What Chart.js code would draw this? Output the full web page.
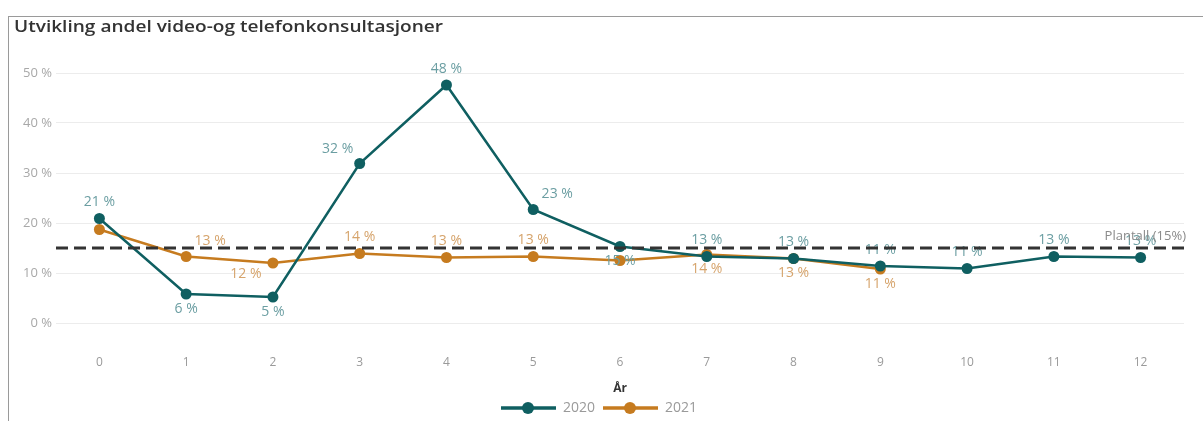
<!DOCTYPE html>
<html>
<head>
<meta charset="utf-8">
<script src="https://cdn.jsdelivr.net/npm/chart.js@4/dist/chart.umd.min.js"></script>
<style>
  html, body { margin: 0; padding: 0; background: #fff; width: 1203px; height: 421px; overflow: hidden; }
  #frame { position: absolute; left: 8px; top: 16px; width: 1195px; height: 405px;
           border-left: 1px solid #9a9a9a; border-top: 1px solid #9a9a9a; box-sizing: border-box; }
  #wrap { position: absolute; left: 0; top: 0; width: 1194px; height: 404px; }
</style>
</head>
<body>
<div id="frame"><div id="wrap"><canvas id="c"></canvas></div></div>
<script>
// ---- data ----
const years = ['0','1','2','3','4','5','6','7','8','9','10','11','12'];
const series2020 = [20.9, 5.8, 5.2, 31.9, 47.6, 22.7, 15.3, 13.3, 12.9, 11.4, 10.9, 13.3, 13.1];
const series2021 = [18.7, 13.3, 12.0, 13.9, 13.1, 13.3, 12.5, 13.7, 12.9, 10.8];
const labels2020 = ['21 %','6 %','5 %','32 %','48 %','23 %','15 %','13 %','13 %','11 %','11 %','13 %','13 %'];
const labels2021 = [null,'13 %','12 %','14 %','13 %','13 %',null,'14 %','13 %','11 %'];
const yTicks = [0, 10, 20, 30, 40, 50];
const targetValue = 15;
const targetLabel = 'Plantall (15%)';
const titleText = 'Utvikling andel video-og telefonkonsultasjoner';
const xTitle = 'År';

// label placement (style only)
const place2020 = ['above','below','below','aboveLeft','above','aboveRight','below','above','above','above','above','above','above'];
const place2021 = [null,'aboveRight','belowLeft','above','above','above',null,'below','below','below'];

const TEAL = '#0f5f61';
const ORANGE = '#c67b1f';
const TEAL_LBL = '#6b9ea2';
const ORANGE_LBL = '#d6a46c';

function legendIcon(color) {
  const c = document.createElement('canvas');
  c.width = 55; c.height = 14;
  const g = c.getContext('2d');
  g.strokeStyle = color; g.lineWidth = 3.5;
  g.beginPath(); g.moveTo(0, 7); g.lineTo(55, 7); g.stroke();
  g.fillStyle = color;
  g.beginPath(); g.arc(27, 7, 6, 0, Math.PI * 2); g.fill();
  return c;
}

const offsets = {
  above: [0, -16], below: [0, 15], aboveLeft: [-22, -14], aboveRight: [24, -15], belowLeft: [-27, 11]
};

const overlayPlugin = {
  id: 'overlay',
  afterDatasetsDraw(chart) {
    const ctx = chart.ctx;
    const sets = [[0, labels2020, place2020, TEAL_LBL], [1, labels2021, place2021, ORANGE_LBL]];
    ctx.save();
    ctx.font = '14px "Open Sans", sans-serif';
    ctx.textAlign = 'center';
    ctx.textBaseline = 'middle';
    sets.forEach(([di, lbls, plc, col]) => {
      const meta = chart.getDatasetMeta(di);
      meta.data.forEach((pt, i) => {
        if (!lbls[i] || !plc[i]) return;
        const o = offsets[plc[i]];
        ctx.fillStyle = col;
        ctx.fillText(lbls[i], pt.x + o[0], pt.y + o[1]);
      });
    });
    // target line
    const ys = chart.scales.y;
    const ca = chart.chartArea;
    const yp = ys.getPixelForValue(targetValue);
    ctx.strokeStyle = '#333';
    ctx.lineWidth = 3;
    ctx.setLineDash([12, 6]);
    ctx.beginPath(); ctx.moveTo(ca.left, yp); ctx.lineTo(ca.right + 4, yp); ctx.stroke();
    ctx.setLineDash([]);
    ctx.fillStyle = '#8a8a8a';
    ctx.font = '13px "Open Sans", sans-serif';
    ctx.textAlign = 'right';
    ctx.fillText(targetLabel, ca.right + 2, yp - 12);
    ctx.restore();
  },
  afterDraw(chart) {
    const ctx = chart.ctx;
    ctx.save();
    ctx.font = '600 16px "Open Sans", sans-serif';
    ctx.fillStyle = '#333';
    ctx.textBaseline = 'middle';
    ctx.textAlign = 'left';
    const w = ctx.measureText(titleText).width;
    ctx.translate(5, 10);
    ctx.scale(429 / w, 1);
    ctx.fillText(titleText, 0, 0);
    ctx.restore();
  }
};

new Chart(document.getElementById('c'), {
  type: 'line',
  data: {
    labels: years,
    datasets: [
      { label: '2020', data: series2020, borderColor: TEAL, backgroundColor: TEAL,
        borderWidth: 2.5, pointRadius: 5.5, pointBackgroundColor: TEAL, pointBorderWidth: 0, tension: 0 },
      { label: '2021', data: series2021, borderColor: ORANGE, backgroundColor: ORANGE,
        borderWidth: 2.5, pointRadius: 5.5, pointBackgroundColor: ORANGE, pointBorderWidth: 0, tension: 0 }
    ]
  },
  options: {
    responsive: true,
    maintainAspectRatio: false,
    animation: false,
    layout: { padding: { left: 5, right: 19, top: 56, bottom: -4 } },
    plugins: {
      title: { display: false },
      legend: {
        position: 'bottom',
        labels: {
          usePointStyle: true,
          pointStyleWidth: 55,
          padding: 8,
          color: '#9a9a9a',
          font: { family: '"Open Sans", sans-serif', size: 14 },
          generateLabels(chart) {
            return chart.data.datasets.map((ds, i) => ({
              text: ds.label,
              pointStyle: legendIcon(ds.borderColor),
              fillStyle: ds.borderColor, strokeStyle: ds.borderColor,
              lineWidth: 0, hidden: false, datasetIndex: i, fontColor: '#9a9a9a'
            }));
          }
        }
      },
      tooltip: { enabled: false }
    },
    scales: {
      x: {
        offset: true,
        grid: { display: false, drawTicks: false },
        border: { display: false },
        ticks: { color: '#9a9a9a', padding: 32, font: { family: '"Open Sans", sans-serif', size: 12 } },
        title: { display: true, text: xTitle, color: '#333',
                 font: { family: '"Open Sans", sans-serif', size: 12, weight: 'bold' },
                 padding: { top: 2, bottom: -3 } },
        afterFit(s) { s.height = 70; }
      },
      y: {
        min: 0, max: 50,
        afterBuildTicks(s) { s.ticks = yTicks.map(v => ({ value: v })); },
        grid: { color: '#ececec', drawTicks: false },
        border: { display: false },
        ticks: { color: '#a8a8a8', padding: 4, font: { family: '"Open Sans", sans-serif', size: 13 },
                 callback: v => v + ' %' },
        afterFit(s) { s.width = 42; }
      }
    }
  },
  plugins: [overlayPlugin]
});
</script>
</body>
</html>
